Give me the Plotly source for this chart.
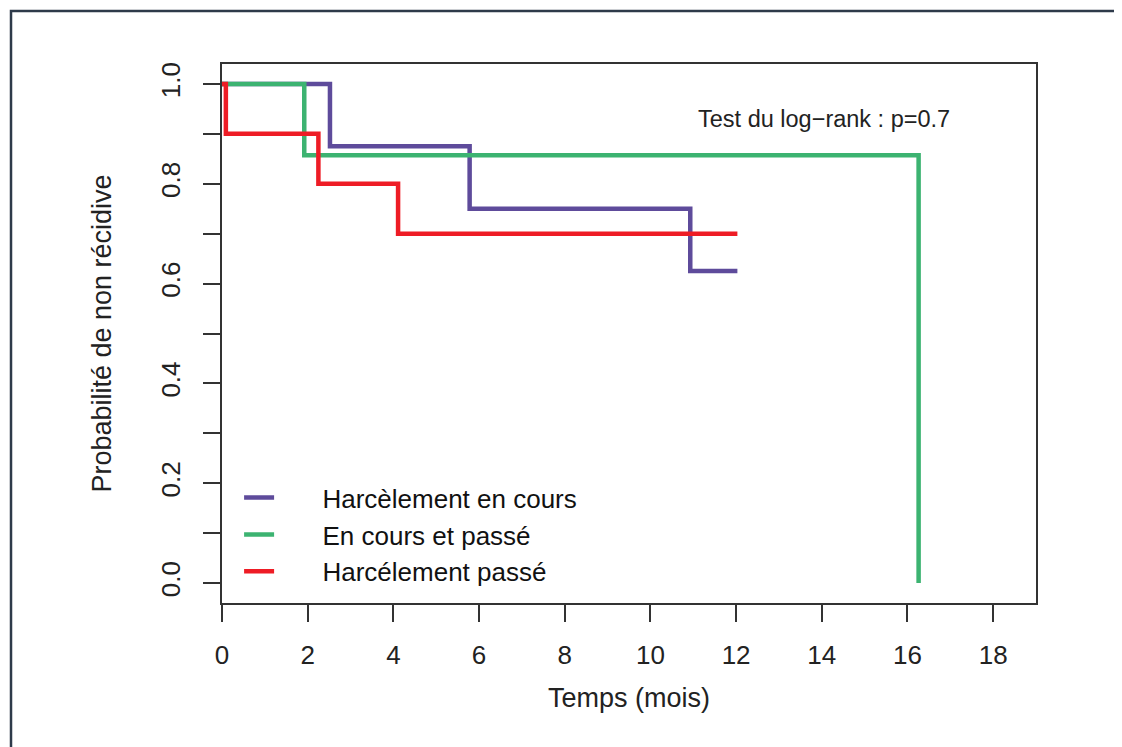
import plotly.graph_objects as go

# Kaplan-Meier step data
t_cours = [0, 2.52, 5.78, 10.93, 12.03]
s_cours = [1.0, 0.875, 0.75, 0.625, 0.625]

t_both = [0, 1.92, 16.26]
s_both = [1.0, 0.857, 0.0]

t_passe = [0, 0.09, 2.25, 4.11, 12.03]
s_passe = [1.0, 0.9, 0.8, 0.7, 0.7]

names = ["Harcèlement en cours", "En cours et passé", "Harcélement passé"]
colors = ["#5E4B9B", "#3CB371", "#EE1C25"]

x_ticks = [0, 2, 4, 6, 8, 10, 12, 14, 16, 18]
y_ticks = [0.0, 0.1, 0.2, 0.3, 0.4, 0.5, 0.6, 0.7, 0.8, 0.9, 1.0]
y_ticktext = ["0.0", "", "0.2", "", "0.4", "", "0.6", "", "0.8", "", "1.0"]

FONT = "Liberation Sans, Arial, sans-serif"
AX = "#333333"
PAD = "\u00a0" * 6

fig = go.Figure()
for t, s, n, c in zip([t_cours, t_both, t_passe], [s_cours, s_both, s_passe], names, colors):
    fig.add_trace(go.Scatter(x=t, y=s, mode="lines", name=PAD + n,
                             line=dict(color=c, width=4.5, shape="hv")))

fig.add_annotation(x=14.06, y=0.93, xref="x", yref="y", text="Test du log\u2212rank : p=0.7",
                   showarrow=False, font=dict(family=FONT, size=23.5, color="#222"))

L, T, W, H = 214, 56, 814, 539
# outer frame (top and left border of the screenshot)
fig.add_shape(type="rect", xref="paper", yref="paper",
              x0=(3 - L) / W, x1=(1130 - L) / W,
              y0=(T + H - 760) / H, y1=(T + H - 3) / H,
              line=dict(color="#2E3A4A", width=2.5), layer="below")

fig.update_layout(
    width=1122, height=747,
    margin=dict(l=L, r=1122 - L - W, t=T, b=747 - T - H),
    paper_bgcolor="white", plot_bgcolor="white",
    font=dict(family=FONT, size=26, color="#222"),
    legend=dict(x=0.021, y=0.239, xanchor="left", yanchor="top",
                bgcolor="rgba(0,0,0,0)", font=dict(size=26, color="#111"),
                tracegroupgap=0),
    showlegend=True,
)
fig.update_xaxes(range=[0, 19], tickvals=x_ticks, ticks="outside", ticklen=17, tickwidth=1.5,
                 tickcolor=AX, showline=True, linecolor=AX, linewidth=1.5, mirror=True,
                 showgrid=False, zeroline=False, tickfont=dict(size=26), ticklabelstandoff=11,
                 title=dict(text="Temps (mois)", font=dict(size=27), standoff=19))
fig.update_yaxes(range=[-0.04, 1.04], tickvals=y_ticks, ticktext=y_ticktext, ticks="outside",
                 ticklen=17, tickwidth=1.5, tickcolor=AX, showline=True, linecolor=AX,
                 linewidth=1.5, mirror=True, showgrid=False, zeroline=False,
                 tickangle=-90, tickfont=dict(size=26), ticklabelstandoff=13,
                 title=dict(text="Probabilité de non récidive", font=dict(size=27), standoff=36))

fig.write_html("out.html")
